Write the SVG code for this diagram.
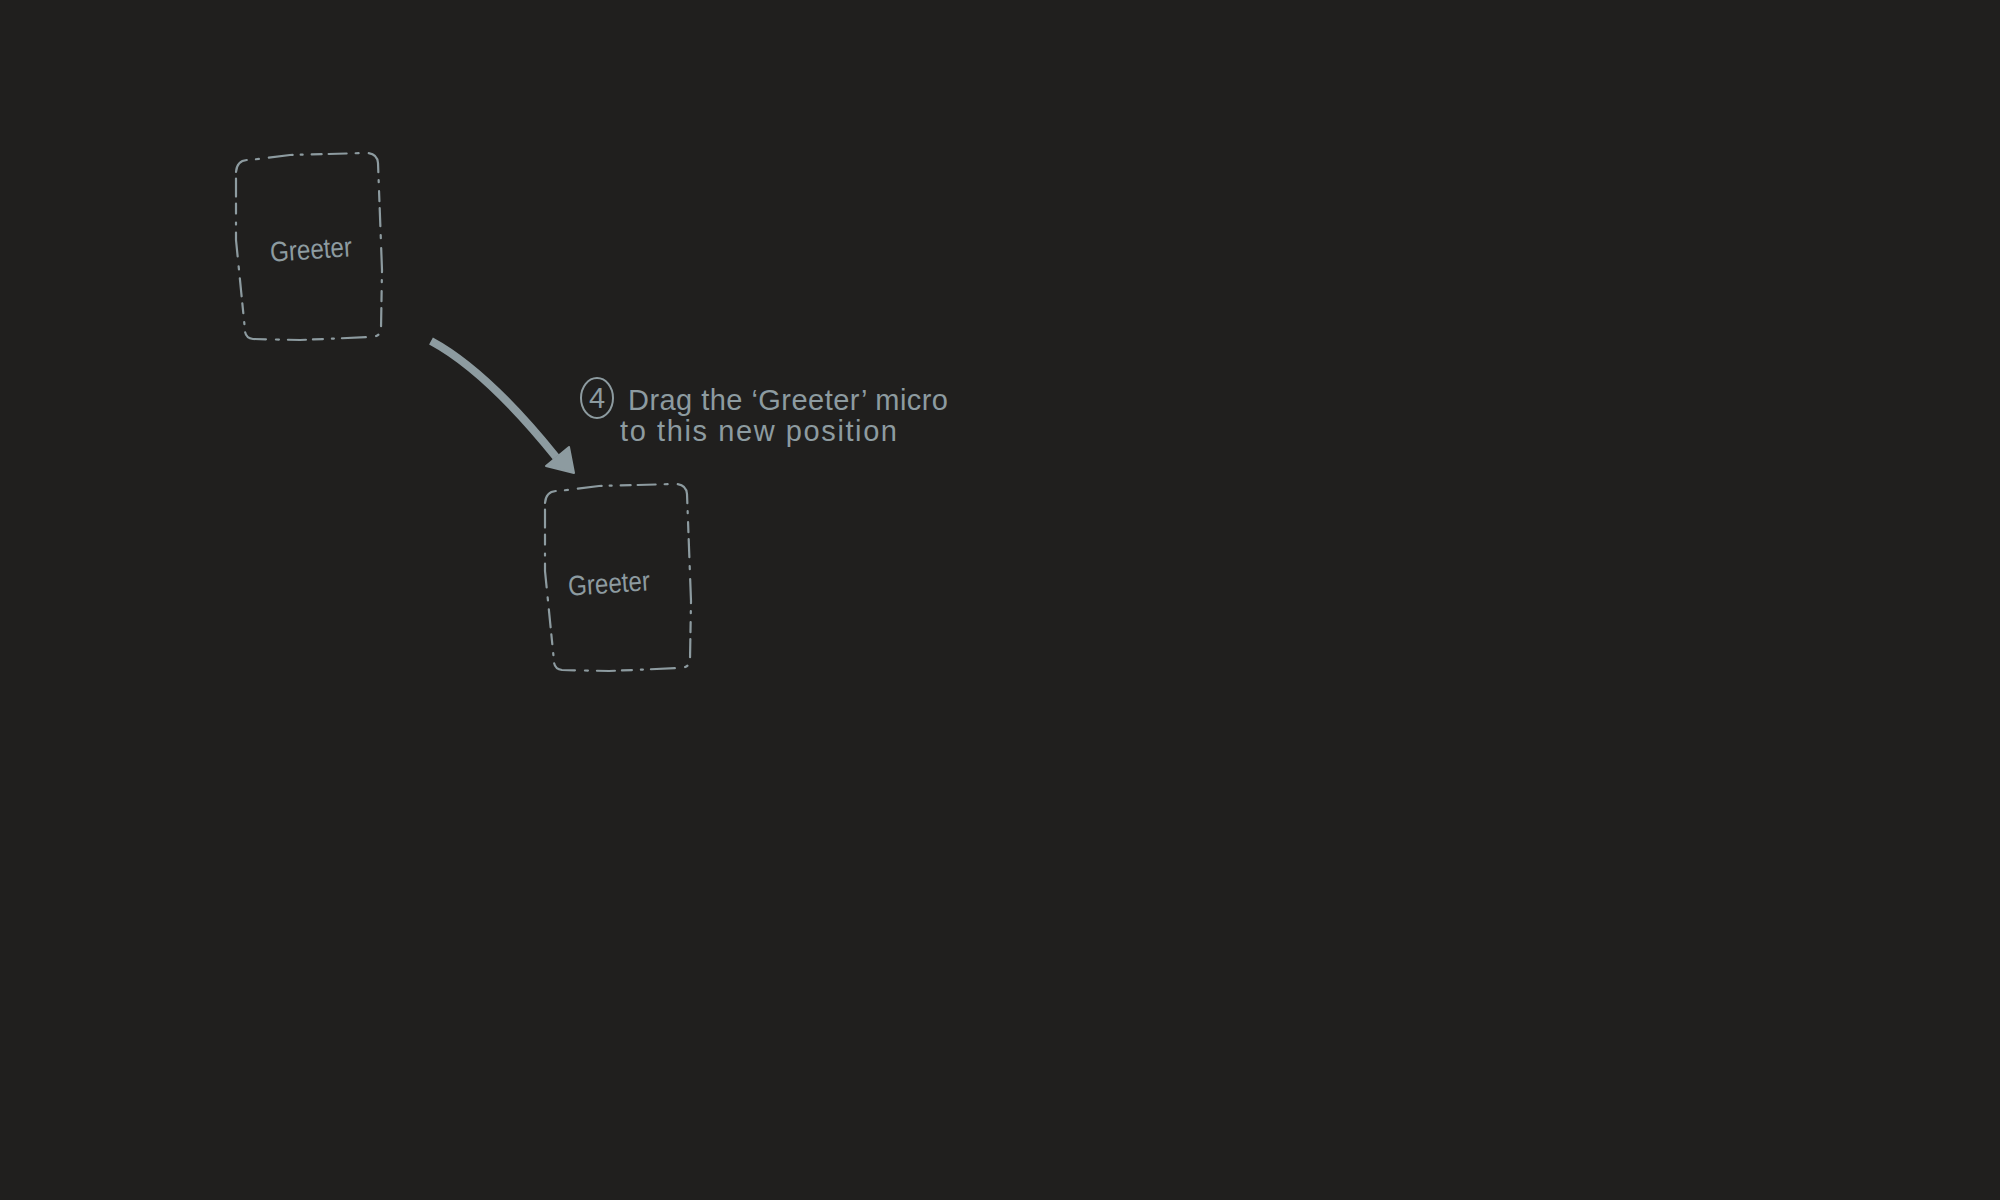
<svg xmlns="http://www.w3.org/2000/svg" xmlns:xlink="http://www.w3.org/1999/xlink" width="2000" height="1200" viewBox="0 0 2000 1200">
  <style>
    .box { fill: none; stroke: #8d9ba0; stroke-width: 2.2; stroke-linecap: round; stroke-dasharray: 18 9 3 10 24 8 2 9 10 7; }
    .lbl { font-family: "Liberation Sans", Arial, sans-serif; fill: #8d9ba0; font-weight: normal; }
    .note { font-family: "Liberation Sans", Arial, sans-serif; fill: #8d9ba0; font-size: 29px; }
  </style>
  <defs>
    <path id="sketchBox" d="M 236 172 Q 237 159 250 160 L 290 155 L 366 153 Q 377 153 378 163 L 382 270 L 381 329 Q 380 337 371 337 L 300 340 L 253 339 Q 245 338 245 330 L 236 240 Z"/>
  </defs>
  <rect x="0" y="0" width="2000" height="1200" fill="#201f1e"/>

  <g id="node-greeter-old">
    <use xlink:href="#sketchBox" class="box"/>
    <text class="lbl" x="270" y="259" font-size="28" textLength="82" lengthAdjust="spacingAndGlyphs" transform="rotate(-4 311 250)">Greeter</text>
  </g>

  <g id="node-greeter-new">
    <use xlink:href="#sketchBox" class="box" transform="translate(309 331)"/>
    <text class="lbl" x="568" y="593" font-size="28" textLength="82" lengthAdjust="spacingAndGlyphs" transform="rotate(-4 609 584)">Greeter</text>
  </g>

  <g id="connectors">
    <path d="M 431 341 C 470 362, 510 400, 556 457" fill="none" stroke="#8d9ba0" stroke-width="8" stroke-linecap="butt"/>
    <polygon points="574,473 546,466 569,447" fill="#8d9ba0" stroke="#8d9ba0" stroke-width="2" stroke-linejoin="round"/>
  </g>

  <g id="note">
    <ellipse cx="597" cy="398" rx="16" ry="20" fill="none" stroke="#8d9ba0" stroke-width="2"/>
    <text class="note" x="597" y="408" text-anchor="middle" font-size="26">4</text>
    <text class="note" x="628" y="410" textLength="320" lengthAdjust="spacing">Drag the ‘Greeter’ micro</text>
    <text class="note" x="620" y="441" textLength="277" lengthAdjust="spacing">to this new position</text>
  </g>
</svg>
